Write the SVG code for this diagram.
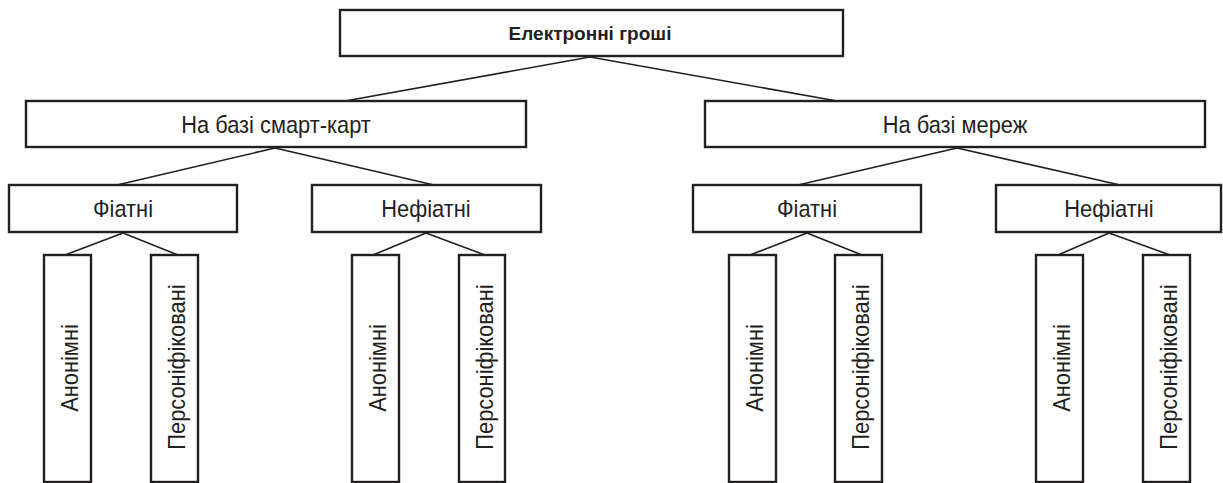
<svg xmlns="http://www.w3.org/2000/svg" width="1223" height="483" viewBox="0 0 1223 483">
<style>
.box{fill:#fff;stroke:#231f20;stroke-width:2.4}
.ln{stroke:#231f20;stroke-width:1.6;fill:none}
.t{font-family:"Liberation Sans",Arial,sans-serif;font-size:24px;fill:#231f20;text-anchor:middle}
.tb{font-family:"Liberation Sans",Arial,sans-serif;font-size:19px;font-weight:bold;fill:#231f20;text-anchor:middle}
</style>
<rect width="1223" height="483" fill="#fff"/>
<g id="connectors">
<path class="ln" d="M590,57 L345,101 M590,57 L837,101"/>
<path class="ln" d="M275,148 L117,185 M275,148 L434,185"/>
<path class="ln" d="M957,148 L798,185 M957,148 L1120,185"/>
<path class="ln" d="M123,233 L65,255 M123,233 L178,255"/>
<path class="ln" d="M426,233 L373,255 M426,233 L485,255"/>
<path class="ln" d="M807,233 L750,255 M807,233 L862,255"/>
<path class="ln" d="M1109,233 L1058,255 M1109,233 L1170,255"/>
</g>
<g id="root"><rect class="box" x="340" y="10" width="503" height="46"/><text class="tb" x="590" y="40">Електронні гроші</text></g>
<g id="smart"><rect class="box" x="26" y="101" width="500" height="46"/><text class="t" transform="translate(276,133) scale(0.91,1)">На базі смарт-карт</text></g>
<g id="net"><rect class="box" x="705" y="101" width="500" height="46"/><text class="t" transform="translate(955,133) scale(0.91,1)">На базі мереж</text></g>
<g id="s-fiat"><rect class="box" x="9" y="185" width="228" height="47"/><text class="t" transform="translate(123,217) scale(0.91,1)">Фіатні</text></g>
<g id="s-nonfiat"><rect class="box" x="312" y="185" width="229" height="47"/><text class="t" transform="translate(426,217) scale(0.91,1)">Нефіатні</text></g>
<g id="n-fiat"><rect class="box" x="693" y="185" width="228" height="47"/><text class="t" transform="translate(807,217) scale(0.91,1)">Фіатні</text></g>
<g id="n-nonfiat"><rect class="box" x="996" y="185" width="225" height="47"/><text class="t" transform="translate(1109,217) scale(0.91,1)">Нефіатні</text></g>
<g id="s-fiat-anon"><rect class="box" x="44" y="255" width="47" height="227"/><text class="t" transform="translate(78,368) rotate(-90) scale(0.91,1)">Анонімні</text></g>
<g id="s-fiat-pers"><rect class="box" x="151" y="255" width="47" height="227"/><text class="t" transform="translate(185,367) rotate(-90) scale(0.91,1)">Персоніфіковані</text></g>
<g id="s-nonfiat-anon"><rect class="box" x="352" y="255" width="47" height="227"/><text class="t" transform="translate(386,368) rotate(-90) scale(0.91,1)">Анонімні</text></g>
<g id="s-nonfiat-pers"><rect class="box" x="459" y="255" width="46" height="227"/><text class="t" transform="translate(493,367) rotate(-90) scale(0.91,1)">Персоніфіковані</text></g>
<g id="n-fiat-anon"><rect class="box" x="729" y="255" width="47" height="227"/><text class="t" transform="translate(763,368) rotate(-90) scale(0.91,1)">Анонімні</text></g>
<g id="n-fiat-pers"><rect class="box" x="835" y="255" width="47" height="227"/><text class="t" transform="translate(869,367) rotate(-90) scale(0.91,1)">Персоніфіковані</text></g>
<g id="n-nonfiat-anon"><rect class="box" x="1036" y="255" width="47" height="227"/><text class="t" transform="translate(1070,368) rotate(-90) scale(0.91,1)">Анонімні</text></g>
<g id="n-nonfiat-pers"><rect class="box" x="1143" y="255" width="47" height="227"/><text class="t" transform="translate(1177,367) rotate(-90) scale(0.91,1)">Персоніфіковані</text></g>
</svg>
